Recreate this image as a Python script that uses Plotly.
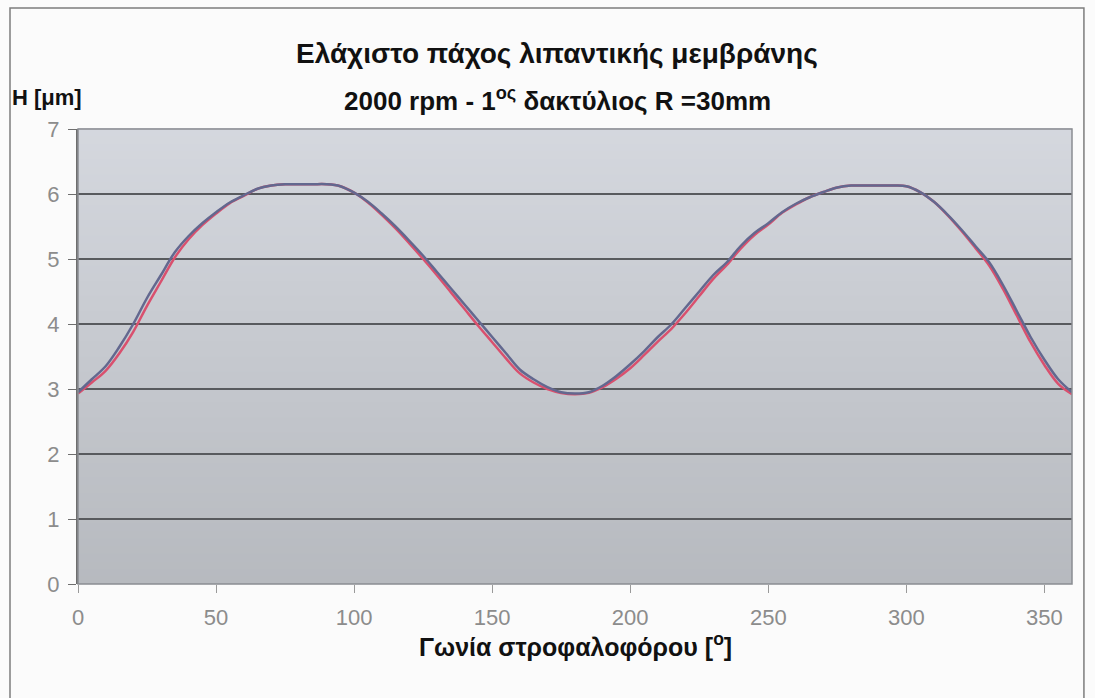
import plotly.graph_objects as go

# Crank angle [deg] and minimum oil-film thickness [um]
angle = list(range(0, 361, 5))

h_blue = [2.95, 3.15, 3.35, 3.65, 4.00, 4.40, 4.75, 5.10, 5.35, 5.55,
          5.72, 5.87, 5.98, 6.08, 6.13, 6.15, 6.15, 6.15, 6.15, 6.12,
          6.02, 5.88, 5.70, 5.50, 5.28, 5.05, 4.80, 4.55, 4.30, 4.05,
          3.80, 3.55, 3.30, 3.15, 3.03, 2.95, 2.93, 2.95, 3.05, 3.20,
          3.38, 3.58, 3.80, 4.00, 4.25, 4.50, 4.75, 4.95, 5.20, 5.40,
          5.55, 5.72, 5.85, 5.95, 6.03, 6.10, 6.13, 6.13, 6.13, 6.13,
          6.12, 6.03, 5.88, 5.68, 5.45, 5.20, 4.95, 4.60, 4.20, 3.80,
          3.45, 3.15, 2.95]

h_red = [2.93, 3.10, 3.28, 3.55, 3.88, 4.28, 4.65, 5.02, 5.30, 5.52,
         5.70, 5.86, 5.97, 6.08, 6.13, 6.15, 6.15, 6.15, 6.15, 6.12,
         6.02, 5.87, 5.68, 5.47, 5.24, 5.00, 4.75, 4.49, 4.23, 3.97,
         3.72, 3.47, 3.24, 3.10, 3.00, 2.94, 2.92, 2.94, 3.03, 3.16,
         3.32, 3.52, 3.73, 3.93, 4.17, 4.43, 4.69, 4.91, 5.16, 5.37,
         5.53, 5.71, 5.84, 5.95, 6.03, 6.10, 6.13, 6.13, 6.13, 6.13,
         6.12, 6.03, 5.88, 5.67, 5.43, 5.17, 4.90, 4.54, 4.13, 3.72,
         3.37, 3.08, 2.92]

x_ticks = [0, 50, 100, 150, 200, 250, 300, 350]
y_ticks = [0, 1, 2, 3, 4, 5, 6, 7]

FONT = "Liberation Sans, Arial, sans-serif"

fig = go.Figure()
fig.add_trace(go.Scatter(x=angle, y=h_red, mode="lines",
                         line=dict(color="#d9506e", width=2.5, shape="spline"),
                         showlegend=False))
fig.add_trace(go.Scatter(x=angle, y=h_blue, mode="lines",
                         line=dict(color="#63688f", width=2.5, shape="spline"),
                         showlegend=False))

# Vertical grey gradient behind the plot area
shapes = []
n_bands = 60
top_rgb = (212, 215, 222)
bot_rgb = (183, 186, 191)
for i in range(n_bands):
    t = i / (n_bands - 1)
    r = round(bot_rgb[0] + (top_rgb[0] - bot_rgb[0]) * t)
    g = round(bot_rgb[1] + (top_rgb[1] - bot_rgb[1]) * t)
    b = round(bot_rgb[2] + (top_rgb[2] - bot_rgb[2]) * t)
    shapes.append(dict(type="rect", xref="x domain", yref="y domain",
                       x0=0, x1=1, y0=i / n_bands, y1=(i + 1) / n_bands + 0.002,
                       fillcolor=f"rgb({r},{g},{b})", line=dict(width=0),
                       layer="below"))
# Plot-area frame
shapes.append(dict(type="rect", xref="x domain", yref="y domain",
                   x0=0, x1=1, y0=0, y1=1,
                   line=dict(color="#8a8d92", width=1.5), layer="above"))
# Outer chart border
shapes.append(dict(type="rect", xref="paper", yref="paper",
                   x0=-68 / 994, x1=1.012, y0=-0.28, y1=1 + 121 / 455,
                   line=dict(color="#7d7d7d", width=1.5), layer="above"))

tick_font = dict(family=FONT, size=22, color="#8c8c8c")

fig.update_layout(
    width=1095, height=698,
    margin=dict(l=78, r=23, t=129, b=114),
    paper_bgcolor="#fbfbfb",
    plot_bgcolor="rgba(0,0,0,0)",
    shapes=shapes,
    xaxis=dict(range=[0, 360], tickvals=x_ticks, ticktext=[str(v) for v in x_ticks],
               ticks="outside", ticklen=8, tickcolor="#9a9a9a", tickwidth=1,
               ticklabelstandoff=6,
               showgrid=False, zeroline=False, showline=False,
               tickfont=tick_font),
    yaxis=dict(range=[0, 7], tickvals=y_ticks, ticktext=[str(v) for v in y_ticks],
               ticks="outside", ticklen=8, tickcolor="#6e6e6e", tickwidth=1,
               ticklabelstandoff=4,
               showgrid=True, gridcolor="#585a5e", gridwidth=2,
               zeroline=False, showline=True, linecolor="#6e6e6e", linewidth=2,
               tickfont=tick_font),
    annotations=[
        dict(text="<b>Ελάχιστο πάχος λιπαντικής μεμβράνης</b>",
             xref="paper", yref="paper", x=(557 - 78) / 994, y=1 + (129 - 54) / 455,
             xanchor="center", yanchor="middle", showarrow=False,
             font=dict(family=FONT, size=28, color="#111")),
        dict(text="<b>2000 rpm - 1<sup>ος</sup> δακτύλιος R =30mm</b>",
             xref="paper", yref="paper", x=(557 - 78) / 994, y=1 + (129 - 99) / 455,
             xanchor="center", yanchor="middle", showarrow=False,
             font=dict(family=FONT, size=26, color="#111")),
        dict(text="<b>H [μm]</b>",
             xref="paper", yref="paper", x=(10 - 78) / 994, y=1 + (129 - 97) / 455,
             xanchor="left", yanchor="middle", showarrow=False,
             font=dict(family=FONT, size=22, color="#111")),
        dict(text="<b>Γωνία στροφαλοφόρου [<sup>o</sup>]</b>",
             xref="paper", yref="paper", x=(575 - 78) / 994, y=-(645 - 584) / 455,
             xanchor="center", yanchor="middle", showarrow=False,
             font=dict(family=FONT, size=25, color="#111")),
    ],
)

fig.write_html("out.html")
